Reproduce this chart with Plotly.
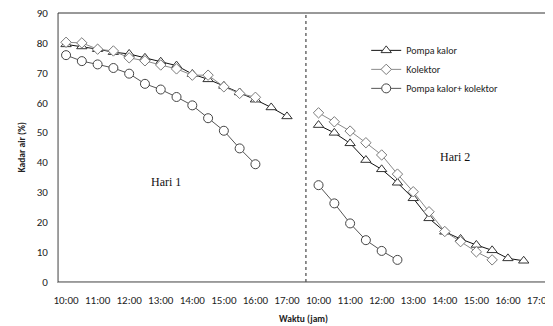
import plotly.graph_objects as go

# ---- data -------------------------------------------------------------
tick_labels = ["10:00", "11:00", "12:00", "13:00", "14:00", "15:00", "16:00", "17:00"]

half_hours = ["10:00", "10:30", "11:00", "11:30", "12:00", "12:30", "13:00", "13:30",
              "14:00", "14:30", "15:00", "15:30", "16:00", "16:30", "17:00"]

series_names = ["Pompa kalor", "Kolektor", "Pompa kalor+ kolektor"]

# Hari 1
day1_pompa = [79.5, 78.8, 77.9, 76.9, 76.3, 75.0, 73.7, 72.4, 69.6, 67.8, 65.6, 63.4, 61.0, 58.4, 55.4]
day1_kolektor = [80.2, 80.0, 77.9, 77.3, 75.0, 74.0, 72.6, 71.3, 69.2, 69.2, 65.3, 63.1, 61.8]
day1_pk_kol = [75.9, 73.9, 72.8, 71.6, 69.7, 66.3, 64.4, 61.9, 59.1, 54.8, 50.6, 44.7, 39.4]

# Hari 2
day2_pompa = [52.5, 49.9, 46.4, 40.8, 37.7, 33.2, 28.0, 21.3, 16.8, 14.4, 12.4, 10.6, 7.9, 7.1]
day2_kolektor = [56.6, 53.6, 50.5, 46.6, 42.5, 36.1, 30.2, 23.5, 16.9, 13.5, 10.1, 7.4]
day2_pk_kol = [32.4, 26.3, 19.6, 14.0, 10.4, 7.4]

day_labels = ["Hari 1", "Hari 2"]
x_title = "Waktu (jam)"
y_title = "Kadar air (%)"

# ---- helpers ------------------------------------------------------------
DAY_SPAN = 8  # hours reserved per day on the shared axis (10:00..17:00 + gap)


def pos(t, day):
    h, m = t.split(":")
    return (int(h) - 10) + int(m) / 60 + day * DAY_SPAN


def build(v1, v2):
    x = [pos(t, 0) for t in half_hours[:len(v1)]] + [None] + \
        [pos(t, 1) for t in half_hours[:len(v2)]]
    y = list(v1) + [None] + list(v2)
    return x, y


styles = [
    dict(symbol="triangle-up", size=9, line_color="#111111", mcolor="#333333"),
    dict(symbol="diamond", size=8, line_color="#8a8a8a", mcolor="#7a7a7a"),
    dict(symbol="circle", size=9, line_color="#555555", mcolor="#444444"),
]

data_pairs = [(day1_pompa, day2_pompa), (day1_kolektor, day2_kolektor), (day1_pk_kol, day2_pk_kol)]

fig = go.Figure()
for name, (v1, v2), st in zip(series_names, data_pairs, styles):
    x, y = build(v1, v2)
    fig.add_trace(go.Scatter(
        x=x, y=y, name=name, mode="lines+markers", connectgaps=False,
        line=dict(color=st["line_color"], width=1),
        marker=dict(symbol=st["symbol"], size=st["size"], color="white",
                    line=dict(color=st["mcolor"], width=1)),
    ))

tickvals = [pos(t, d) for d in (0, 1) for t in tick_labels]
ticktext = tick_labels * 2

font_family = "Carlito, Lato, 'Open Sans', sans-serif"

# the page body adds an 8px offset, so the figure is sized 8px smaller
fig.update_layout(
    width=545, height=318,
    margin=dict(l=50, r=5, t=5, b=44, autoexpand=False),
    paper_bgcolor="white", plot_bgcolor="white",
    font=dict(family=font_family, size=10, color="#222222"),
    showlegend=True,
    legend=dict(x=0.629, y=0.915, xanchor="left", yanchor="top",
                bgcolor="rgba(0,0,0,0)", font=dict(size=10, color="#222222"),
                tracegroupgap=0),
    xaxis=dict(range=[-0.255, 15.27], tickvals=tickvals, ticktext=ticktext,
               showgrid=False, zeroline=False, showline=True, linecolor="#a6a6a6",
               linewidth=1, ticks="", ticklabelstandoff=8, automargin=False,
               ticklabeloverflow="allow",
               tickfont=dict(size=11, color="#222222")),
    yaxis=dict(range=[0, 90], dtick=10, showgrid=False, zeroline=False, showline=True,
               linecolor="#a6a6a6", linewidth=1, ticks="", ticklabelstandoff=7,
               automargin=False, ticklabeloverflow="allow",
               tickfont=dict(size=11, color="#222222")),
)

# axis titles
fig.add_annotation(xref="paper", yref="paper", x=0.5, y=0, yshift=-37, yanchor="middle",
                   text="<b>%s</b>" % x_title, showarrow=False,
                   font=dict(size=9.5, color="#222222"))
fig.add_annotation(xref="paper", yref="paper", x=0, xshift=-37, y=0.5, xanchor="center",
                   text="<b>%s</b>" % y_title, showarrow=False, textangle=-90,
                   font=dict(size=9.5, color="#222222"))

# plot-area border (top/right dark, axis lines drawn over left/bottom)
fig.add_shape(type="rect", xref="paper", yref="paper", x0=0, x1=1, y0=0, y1=1,
              line=dict(color="#333333", width=1), layer="below")

# day separator
sep_x = (pos(tick_labels[-1], 0) + pos(tick_labels[0], 1)) / 2 + 0.1
fig.add_shape(type="line", xref="x", yref="paper", x0=sep_x, x1=sep_x, y0=0, y1=1,
              line=dict(color="#555555", width=1.3, dash="3px,3px"))

# day labels
fig.add_annotation(x=3.16, y=33.4, text=day_labels[0], showarrow=False,
                   font=dict(family="Liberation Serif, Times New Roman, serif", size=12, color="#111111"))
fig.add_annotation(x=12.33, y=41.8, text=day_labels[1], showarrow=False,
                   font=dict(family="Liberation Serif, Times New Roman, serif", size=12, color="#111111"))

fig.write_html("out.html")
